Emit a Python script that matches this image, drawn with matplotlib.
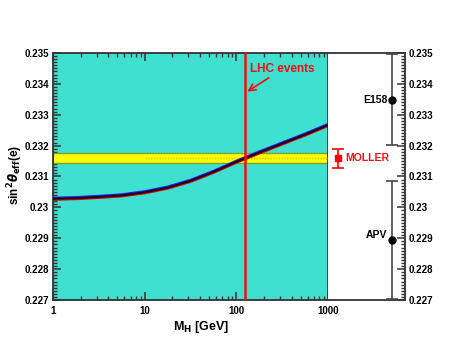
import numpy as np
import matplotlib
matplotlib.use('Agg')
import matplotlib.pyplot as plt
import matplotlib.transforms as mtransforms
from matplotlib.ticker import AutoMinorLocator, LogLocator, FixedLocator, FuncFormatter, NullFormatter

plt.rcParams['font.family'] = ['Liberation Sans', 'DejaVu Sans']
plt.rcParams['font.weight'] = 'bold'

# Standard model running of sin^2 theta_eff vs Higgs mass
mh = [1.0, 1.78, 3.16, 5.62, 10.0, 17.8, 31.6, 56.2, 100.0, 178.0, 316.0, 562.0, 1000.0]
sin2 = [0.23028, 0.23030, 0.23034, 0.23039, 0.23049, 0.23064, 0.23086,
        0.23115, 0.23148, 0.23178, 0.23207, 0.23236, 0.23267]

# MOLLER projected band
band_center = 0.2316
band_lo, band_hi = 0.23144, 0.23176
band_dotted_x = [10, 1000]

lhc_mass = 125  # GeV

# measurements in the side panel: name, value, error
meas_names = ['E158', 'APV', 'MOLLER']
meas_vals = [0.23348, 0.22895, 0.23159]
meas_errs = [0.00147, 0.00191, 0.00031]
meas_xpos = [0.83, 0.83, 0.13]
meas_colors = ['black', 'black', 'red']

ylo, yhi = 0.227, 0.235

fig = plt.figure(figsize=(4.57, 3.53), dpi=100)
ax = fig.add_axes([0.116, 0.150, 0.602, 0.700])
ax2 = fig.add_axes([0.718, 0.150, 0.168, 0.700])

edge = '#333333'

# ---- main panel ----
ax.set_facecolor('#40E0D0')
ax.set_xscale('log')
ax.set_xlim(1, 1000)
ax.set_ylim(ylo, yhi)

ax.axhspan(band_lo, band_hi, facecolor='#FFFF00', edgecolor='#7f9f3a', lw=1.0, zorder=2)
ax.plot(band_dotted_x, [band_center, band_center], ls=(0, (1, 1)), color='#d8c000', lw=1.0, zorder=3)

# curve: blue edge above, red edge below, black core
off = 0.7
tr_up = mtransforms.offset_copy(ax.transData, fig=fig, x=0, y=off, units='points')
tr_dn = mtransforms.offset_copy(ax.transData, fig=fig, x=0, y=-off, units='points')
ax.plot(mh, sin2, color='#2020ff', lw=1.6, transform=tr_up, zorder=4, solid_capstyle='butt')
ax.plot(mh, sin2, color='#cc0000', lw=1.6, transform=tr_dn, zorder=4, solid_capstyle='butt')
ax.plot(mh, sin2, color='#200010', lw=1.4, zorder=5, solid_capstyle='butt')

ax.axvline(lhc_mass, color='#ee1111', lw=1.8, zorder=6)
ax.annotate('LHC events', xy=(lhc_mass * 1.05, 0.23375), xytext=(142, 0.23448),
            color='#ee1111', fontsize=8.5, fontweight='bold', ha='left', va='center',
            arrowprops=dict(arrowstyle='->', color='#ee1111', lw=1.2,
                            shrinkA=0, shrinkB=0, mutation_scale=12),
            zorder=7)

for s in ax.spines.values():
    s.set_color(edge)
    s.set_linewidth(1.3)

ax.yaxis.set_major_locator(FixedLocator(np.arange(0.227, 0.2355, 0.001)))
ax.yaxis.set_minor_locator(AutoMinorLocator(10))
ax.yaxis.set_major_formatter(FuncFormatter(lambda v, p: '%g' % round(v, 4)))
ax.xaxis.set_major_locator(LogLocator(base=10))
ax.xaxis.set_minor_locator(LogLocator(base=10, subs=np.arange(2, 10)))
ax.xaxis.set_minor_formatter(NullFormatter())
ax.xaxis.set_major_formatter(FuncFormatter(lambda v, p: '%d' % v))

ax.tick_params(axis='both', which='both', direction='in', color=edge, labelsize=7)
ax.tick_params(axis='x', which='both', top=True, bottom=True, pad=4)
ax.tick_params(axis='y', which='both', left=True, right=False, pad=3)
ax.tick_params(which='major', length=6, width=1.1)
ax.tick_params(which='minor', length=3, width=1.0)

ax.set_xlabel(r'M$_\mathbf{H}$ [GeV]', fontsize=9, fontweight='bold', labelpad=2)
ax.xaxis.set_label_coords(0.54, -0.075)
fig.text(15 / 457, 0.504, r'sin$^\mathbf{2}\theta_\mathbf{eff}$(e)', rotation=90,
         ha='center', va='center', fontsize=8.5, fontweight='bold')

# ---- side panel with measurements ----
ax2.set_facecolor('white')
ax2.set_xlim(0, 1)
ax2.set_ylim(ylo, yhi)
ax2.spines['left'].set_visible(False)
for s in ['top', 'bottom', 'right']:
    ax2.spines[s].set_color(edge)
    ax2.spines[s].set_linewidth(1.3)
ax2.set_xticks([])
ax2.yaxis.tick_right()
ax2.yaxis.set_major_locator(FixedLocator(np.arange(0.227, 0.2355, 0.001)))
ax2.yaxis.set_minor_locator(AutoMinorLocator(10))
ax2.yaxis.set_major_formatter(FuncFormatter(lambda v, p: '%g' % round(v, 4)))
ax2.tick_params(axis='y', which='both', direction='in', color=edge, labelsize=7, pad=3)
ax2.tick_params(which='major', length=6, width=1.1)
ax2.tick_params(which='minor', length=3, width=1.0)

for name, v, e, xp, c in zip(meas_names, meas_vals, meas_errs, meas_xpos, meas_colors):
    mk = 's' if name == 'MOLLER' else 'o'
    ec = '#444444' if c == 'black' else c
    ax2.errorbar([xp], [v], yerr=[e], fmt=mk, color=c, ecolor=ec, ms=5 if mk == 'o' else 4,
                 capsize=4, elinewidth=1.2, capthick=1.2, clip_on=False, zorder=5)
ax2.text(0.77, meas_vals[0], meas_names[0], ha='right', va='center', fontsize=7.5, fontweight='bold')
ax2.text(0.77, meas_vals[1] + 0.00016, meas_names[1], ha='right', va='center', fontsize=7.5, fontweight='bold')
ax2.text(0.22, meas_vals[2], meas_names[2], ha='left', va='center', fontsize=7.5,
         fontweight='bold', color='#ee1111')

fig.savefig('out.png', dpi=100)
